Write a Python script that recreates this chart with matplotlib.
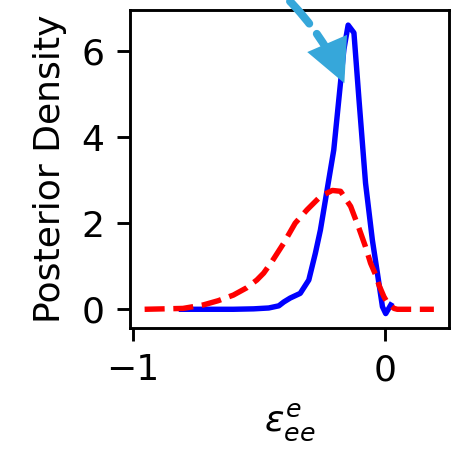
import matplotlib
matplotlib.use("Agg")
import matplotlib.pyplot as plt

# Blue solid curve (posterior)
blue_x = [-0.806, -0.70, -0.60, -0.52, -0.46, -0.42, -0.40, -0.375, -0.335, -0.301,
          -0.275, -0.255, -0.235, -0.222, -0.202, -0.182, -0.162, -0.145, -0.122, -0.102,
          -0.076, -0.049, -0.029, -0.009, 0.004, 0.024]
blue_y = [0.0, 0.0, 0.0, 0.01, 0.03, 0.08, 0.17, 0.26, 0.37, 0.68,
          1.30, 1.84, 2.54, 3.00, 3.70, 4.87, 6.03, 6.60, 6.42, 4.87,
          2.93, 1.61, 0.84, 0.06, -0.10, 0.10]

# Red dashed curve (prior)
red_x = [-0.952, -0.80, -0.72, -0.66, -0.60, -0.547, -0.507, -0.48, -0.447, -0.401,
         -0.355, -0.308, -0.255, -0.208, -0.175, -0.135, -0.102, -0.076, -0.056, -0.036,
         -0.022, -0.003, 0.011, 0.037, 0.05, 0.10, 0.15, 0.195]
red_y = [0.0, 0.02, 0.10, 0.20, 0.33, 0.50, 0.68, 0.84, 1.11, 1.53,
         2.00, 2.31, 2.62, 2.76, 2.74, 2.39, 1.88, 1.45, 1.07, 0.80,
         0.55, 0.29, 0.15, 0.02, 0.0, 0.0, 0.0, 0.0]

# Arrow annotation (points to the true value)
arrow_xy = (-0.16, 5.25)
arrow_xytext = (-0.50, 7.80)
arrow_color = "#36a7da"

xticks = [-1, 0]
yticks = [0, 2, 4, 6]

DPI = 260
fig = plt.figure(figsize=(452 / DPI, 451 / DPI), dpi=DPI)
ax = fig.add_axes([0.2876, 0.2727, 0.7058, 0.7051])

ax.plot(blue_x, blue_y, color="blue", lw=1.5, zorder=2)
ax.plot(red_x, red_y, color="red", lw=1.5, ls="--", zorder=3)

conn = "arc3,rad=-0.13"
# dashed shaft
ax.annotate("", xy=arrow_xy, xytext=arrow_xytext, xycoords="data",
            arrowprops=dict(arrowstyle="-", color=arrow_color, lw=2.2, ls="--",
                            shrinkA=0, shrinkB=11, connectionstyle=conn),
            annotation_clip=False, zorder=4)
# solid filled head
ax.annotate("", xy=arrow_xy, xytext=arrow_xytext, xycoords="data",
            arrowprops=dict(arrowstyle="-|>", color=arrow_color, lw=0,
                            mutation_scale=30, shrinkA=0, shrinkB=0,
                            connectionstyle=conn),
            annotation_clip=False, zorder=4)

ax.set_xlim(-1.01, 0.255)
ax.set_ylim(-0.435, 6.95)
ax.set_xticks(xticks)
ax.set_yticks(yticks)
ax.tick_params(labelsize=10)
ax.set_xlabel(r"$\varepsilon_{ee}^{e}$", fontsize=10)
ax.set_ylabel("Posterior Density", fontsize=10)

fig.savefig("out.png", dpi=DPI)
